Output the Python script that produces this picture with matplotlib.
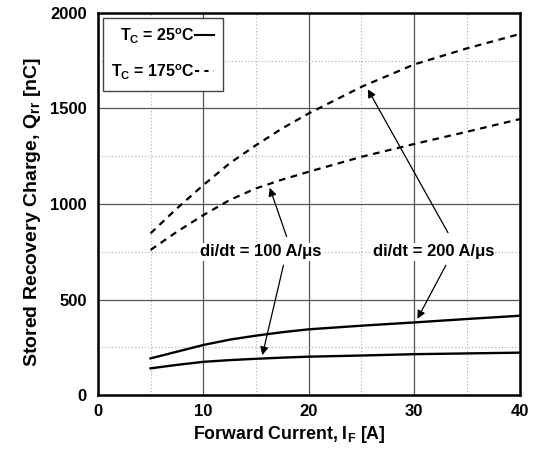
import matplotlib
matplotlib.use('Agg')
import matplotlib.pyplot as plt
from matplotlib.lines import Line2D

plt.rcParams['font.family'] = 'Liberation Sans'
plt.rcParams['font.weight'] = 'bold'
plt.rcParams['axes.labelweight'] = 'bold'
plt.rcParams['mathtext.fontset'] = 'custom'
plt.rcParams['mathtext.rm'] = 'Liberation Sans:bold'
plt.rcParams['mathtext.it'] = 'Liberation Sans:bold'
plt.rcParams['mathtext.bf'] = 'Liberation Sans:bold'
plt.rcParams['mathtext.default'] = 'rm'

# forward current [A]
current = [5, 7.5, 10, 12.5, 15, 17.5, 20, 25, 30, 35, 40]
# stored recovery charge [nC]
q_175_200 = [847, 977, 1099, 1213, 1308, 1396, 1474, 1613, 1730, 1814, 1889]
q_175_100 = [760, 855, 942, 1021, 1082, 1128, 1169, 1247, 1314, 1378, 1444]
q_25_200 = [193, 228, 263, 291, 312, 330, 345, 364, 381, 399, 416]
q_25_100 = [141, 159, 175, 184, 191, 197, 202, 208, 215, 219, 223]

fig = plt.figure(figsize=(5.38, 4.57), dpi=100)
ax = fig.add_axes([0.1818, 0.135, 0.7842, 0.837])

dash = (3, 2.5)
ax.plot(current, q_175_200, 'k--', linewidth=1.6, dashes=dash)
ax.plot(current, q_175_100, 'k--', linewidth=1.6, dashes=dash)
ax.plot(current, q_25_200, 'k-', linewidth=1.7)
ax.plot(current, q_25_100, 'k-', linewidth=1.7)

ax.set_xlim(0, 40)
ax.set_ylim(0, 2000)
ax.set_xticks([0, 10, 20, 30, 40])
ax.set_yticks([0, 500, 1000, 1500, 2000])
ax.set_xticks([5, 15, 25, 35], minor=True)
ax.set_yticks([250, 750, 1250, 1750], minor=True)
ax.grid(which='major', color='#555555', linewidth=0.9)
ax.grid(which='minor', color='#aaaaaa', linewidth=0.8, linestyle=(0, (1, 2)))
ax.tick_params(which='both', length=0, labelsize=12, pad=8)
ax.tick_params(axis='x', pad=6)
for s in ax.spines.values():
    s.set_linewidth(1.8)
ax.set_axisbelow(True)

ax.set_xlabel('Forward Current, I$_\\mathregular{F}$ [A]', fontsize=12.8, labelpad=4, x=0.453)
ax.set_ylabel('Stored Recovery Charge, Q$_\\mathregular{rr}$ [nC]', fontsize=14, labelpad=5, y=0.48)

handles = [Line2D([], [], color='k', linestyle='-', linewidth=1.5),
           Line2D([], [], color='k', linestyle='--', linewidth=1.5, dashes=(2, 2.5))]
labels = ['T$_\\mathregular{C}$ = 25$^\\mathregular{o}$C', 'T$_\\mathregular{C}$ = 175$^\\mathregular{o}$C']
leg = ax.legend(handles, labels, loc='upper left', markerfirst=False, handlelength=1.2,
                handletextpad=0.0, labelspacing=1.05, fontsize=11.5, fancybox=False,
                borderaxespad=0.3, borderpad=0.55, framealpha=1)
leg.get_frame().set_edgecolor('#444444')
leg.get_frame().set_linewidth(1.0)

arrow = dict(arrowstyle='-|>', color='k', linewidth=0.9, mutation_scale=12, shrinkA=0, shrinkB=0)
ax.text(15.45, 751, 'di/dt = 100 A/\u03bcs', ha='center', va='center', fontsize=12,
        bbox=dict(facecolor='white', edgecolor='none', pad=1))
ax.text(31.8, 751, 'di/dt = 200 A/\u03bcs', ha='center', va='center', fontsize=12,
        bbox=dict(facecolor='white', edgecolor='none', pad=1))
ax.annotate('', xy=(16.3, 1085), xytext=(17.9, 830), arrowprops=arrow)
ax.annotate('', xy=(15.6, 210), xytext=(17.6, 680), arrowprops=arrow)
ax.annotate('', xy=(25.6, 1600), xytext=(33.2, 850), arrowprops=arrow)
ax.annotate('', xy=(30.3, 400), xytext=(33.0, 680), arrowprops=arrow)

fig.savefig('out.png', dpi=100)
